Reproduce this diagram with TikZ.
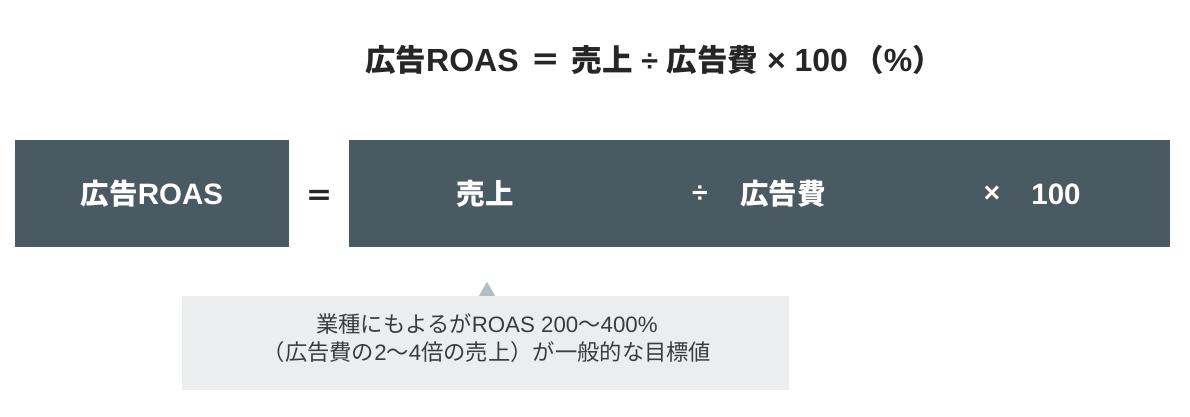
\documentclass[tikz,border=0pt]{standalone}
\usepackage{fontspec}
\newfontfamily\jp{Noto Sans CJK JP}
\newfontfamily\lat{Liberation Sans}
\definecolor{boxc}{HTML}{4A5A63}
\definecolor{notec}{HTML}{ECEDEF}
\definecolor{tric}{HTML}{B2BEC6}
\definecolor{titlec}{HTML}{262626}
\tikzset{
  darkbox/.style={fill=boxc, draw=none, inner sep=0pt, rectangle},
  boxtext/.style={text=white, inner sep=0pt, font=\bfseries\fontsize{28.5}{32}\selectfont},
  titletext/.style={text=titlec, inner sep=0pt, font=\bfseries\fontsize{30.5}{36}\selectfont},
  notebox/.style={fill=notec, draw=none, inner sep=0pt, rectangle},
  notetext/.style={text=titlec!90, inner sep=0pt, align=center, font=\fontsize{22.3}{28}\selectfont},
}
\begin{document}
\begin{tikzpicture}[x=1pt,y=-1pt]
\useasboundingbox (0,0) rectangle (1190,416);
\fill[white] (0,0) rectangle (1190,416);
% title
\node[titletext] (title) at (654,60) {{\jp 広告}{\lat\fontsize{32}{36}\selectfont ROAS}\ {\jp ＝}\ {\jp 売上}{\lat\ ÷\ }{\jp 広告費}{\lat\fontsize{32}{36}\selectfont\ ×\ 100\,}{\jp （}{\lat\fontsize{32}{36}\selectfont\%}{\jp ）}};
% boxes
\node[darkbox, minimum width=274, minimum height=107] (lhs) at (152,193.5) {};
\node[darkbox, minimum width=821, minimum height=107] (rhs) at (759.5,193.5) {};
\node[boxtext] (lhst) at (lhs.center) {{\jp 広告}{\lat\fontsize{29.5}{32}\selectfont ROAS}};
\node[text=titlec, inner sep=0pt, font=\bfseries\fontsize{28}{32}\selectfont] (eq) at (319.5,198) {\jp ＝};
\node[boxtext] (sales) at (485,194) {\jp 売上};
\node[boxtext] (div) at (700,194) {\lat ÷};
\node[boxtext] (cost) at (783,194) {\jp 広告費};
\node[boxtext] (mul) at (992,194) {\lat ×};
\node[boxtext] (hund) at (1056,194) {\lat\fontsize{29.5}{32}\selectfont 100};
% note
\node[notebox, minimum width=607, minimum height=94] (note) at (485.5,343) {};
\coordinate (tip) at ([xshift=1.5,yshift=14]note.north);
\fill[tric] ([xshift=-6.5]note.north) -- (tip) -- ([xshift=9.5]note.north) -- cycle;
\node[notetext] (notet) at (487,338.5) {{\jp 業種にもよるが}{\lat ROAS 200}{\jp 〜}{\lat 400\%}\\{\jp （広告費の}{\lat 2}{\jp 〜}{\lat 4}{\jp 倍の売上）が一般的な目標値}};
\end{tikzpicture}
\end{document}
